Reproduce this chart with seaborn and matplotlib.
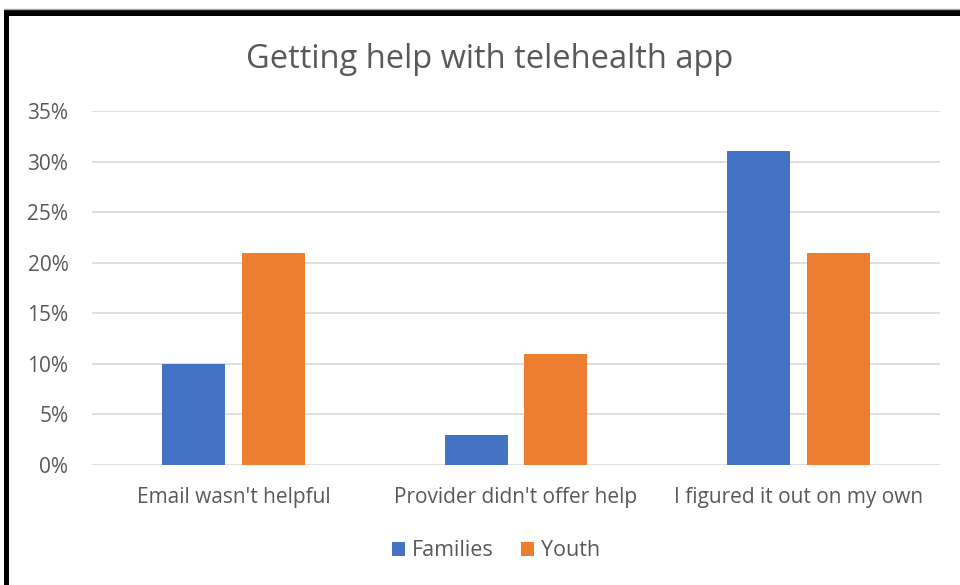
import matplotlib
matplotlib.use("Agg")
import matplotlib.pyplot as plt
from matplotlib.patches import Patch, Rectangle
from matplotlib.lines import Line2D
import seaborn as sns
import pandas as pd

categories = ["Email wasn't helpful", "Provider didn't offer help", "I figured it out on my own"]
families = [10, 3, 31]
youth = [21, 11, 21]
series_names = ["Families", "Youth"]
y_ticks = [0, 5, 10, 15, 20, 25, 30, 35]

colors = {"Families": "#4472C4", "Youth": "#ED7D31"}
text_color = "#595959"
grid_color = "#D9D9D9"

df = pd.DataFrame({
    "category": categories * 2,
    "series": [series_names[0]] * 3 + [series_names[1]] * 3,
    "value": families + youth,
})

sns.set_theme(style="white")
plt.rcParams["font.family"] = ["Open Sans", "DejaVu Sans"]

W, H = 960, 585
fig = plt.figure(figsize=(W / 100, H / 100), dpi=100)
ax = fig.add_axes([92 / W, 1 - 465 / H, (940 - 92) / W, (465 - 111) / H])

sns.barplot(data=df, x="category", y="value", hue="series", order=categories,
            hue_order=series_names, palette=colors, width=0.566, gap=0.2125,
            saturation=1, legend=False, ax=ax, edgecolor="none")

ax.set_ylim(0, 35)
ax.set_yticks(y_ticks)
ax.set_yticklabels([f"{v}%" for v in y_ticks])
ax.yaxis.grid(True, color=grid_color, linewidth=1.2)
ax.set_axisbelow(True)
for s in ax.spines.values():
    s.set_visible(False)
ax.tick_params(axis="both", length=0, colors=text_color, labelsize=15)
ax.tick_params(axis="y", pad=17)
ax.tick_params(axis="x", pad=16)
ax.set_xlabel("")
ax.set_ylabel("")

fig.text(490 / W, 1 - 59 / H, "Getting help with telehealth app", ha="center", va="center",
         fontsize=23.5, color=text_color)

handles = [Patch(facecolor=colors[n], edgecolor="none") for n in series_names]
fig.legend(handles, series_names, loc="center", bbox_to_anchor=(496 / W, 1 - 551 / H),
           ncol=2, frameon=False, fontsize=15.5, labelcolor=text_color,
           handlelength=0.6, handleheight=0.6, handletextpad=0.3, columnspacing=1.3)

# black frame around the chart area
fig.patches.append(Rectangle((4 / W, 1 - 16 / H), 1 - 4 / W, 6 / H, transform=fig.transFigure,
                             facecolor="black", edgecolor="none"))
fig.patches.append(Rectangle((4 / W, 0), 5 / W, 1 - 10 / H, transform=fig.transFigure,
                             facecolor="black", edgecolor="none"))
fig.lines.append(Line2D([4 / W, 1], [1 - 8.5 / H, 1 - 8.5 / H], transform=fig.transFigure,
                        color="#A6A6A6", linewidth=1))

fig.savefig("out.png", dpi=100)
